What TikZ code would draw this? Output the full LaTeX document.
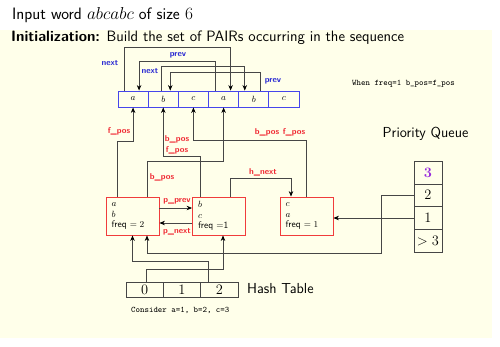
\documentclass[tikz,border=0pt]{standalone}
\usetikzlibrary{arrows.meta,calc}
\definecolor{bgyellow}{RGB}{255,255,234}
\definecolor{lblblue}{RGB}{40,40,210}
\definecolor{arrblue}{RGB}{70,70,235}
\definecolor{lblred}{RGB}{240,40,50}
\definecolor{boxred}{RGB}{240,60,60}
\definecolor{qpurple}{RGB}{150,40,220}
\definecolor{linegray}{RGB}{70,70,70}
\tikzset{
  cell/.style={draw=arrblue, line width=0.9pt, minimum width=30.17pt, minimum height=16pt, inner sep=0pt, font=\fontsize{9}{10}\selectfont},
  pbox/.style={draw=boxred, line width=0.85pt, minimum width=53pt, minimum height=38pt, text width=42pt, align=left, inner xsep=5pt, font=\sffamily\fontsize{9.5}{10.5}\selectfont},
  qcell/.style={draw=linegray, line width=0.7pt, minimum width=28pt, minimum height=22.75pt, inner sep=0pt, font=\fontsize{13.5}{15}\selectfont},
  hcell/.style={draw=linegray, line width=0.7pt, minimum width=37.33pt, minimum height=15pt, inner sep=0pt, font=\fontsize{13.5}{15}\selectfont},
  conn/.style={draw=linegray, line width=0.7pt, -{Stealth[length=5.5pt,width=4.5pt,color=black]}},
  rlbl/.style={text=lblred, font=\sffamily\bfseries\fontsize{8.5}{10}\selectfont, inner sep=0pt},
  blbl/.style={text=lblblue, font=\sffamily\bfseries\fontsize{8.5}{10}\selectfont, inner sep=0pt},
}
\begin{document}
\begin{tikzpicture}[x=1pt,y=-1pt]
\useasboundingbox (0,0) rectangle (500,346);
\fill[bgyellow] (0,30) rectangle (492,338);
% titles
\node[anchor=west, inner sep=0pt, font=\sffamily\fontsize{16.5}{20}\selectfont] (title) at (12,15) {Input word $abcabc$ of size $6$};
\node[anchor=west, inner sep=0pt, font=\sffamily\fontsize{15}{18}\selectfont] (init) at (11,38) {\textbf{Initialization:} Build the set of PAIRs occurring in the sequence};
% array
\foreach \i/\t in {1/a,2/b,3/c,4/a,5/b,6/c}
  \node[cell] (c\i) at ({118+30.17*(\i-0.5)},99) {$\t$};
% top links
\draw[conn] ([xshift=-9pt]c1.north) -- ++(0,-43) -| ([xshift=7pt]c4.north);
\draw[conn] ([xshift=-8pt]c4.north) -- ++(0,-29) -| ([xshift=6pt]c1.north);
\draw[conn] ([xshift=-2pt]c2.north) -- ++(0,-24) -| ([xshift=-9pt]c5.north);
\draw[conn] ([xshift=7pt]c5.north) -- ++(0,-18) -| ([xshift=7pt]c2.north);
\node[blbl] (ln1) at (110,63) {next};
\node[blbl] (lp1) at (178,55) {prev};
\node[blbl] (ln2) at (150,71) {next};
\node[blbl] (lp2) at (273,81) {prev};
% pair boxes
\node[pbox] (B1) at (132.5,216) {$a$\\$b$\\freq $= 2$};
\node[pbox] (B2) at (219,216) {$b$\\$c$\\freq $=$1};
\node[pbox] (B3) at (306.5,216) {$c$\\$a$\\freq $= 1$};
% box to array
\draw[conn] ([xshift=-15.5pt]B1.north) -- ++(0,-55) -| (c1.south);
\draw[conn] ([xshift=14.5pt]B1.north) -- ++(0,-35) -| (c4.south);
\draw[conn] ([xshift=-19pt]B2.north) -- ++(0,-40) -| (c2.south);
\draw[conn] (B3.north) -- ++(0,-56) -| (c3.south);
\draw[conn] ([xshift=11pt]B2.north) -- ++(0,-18) -| ([xshift=-15.5pt]B3.north);
\node[rlbl] (lf1) at (119,131) {f\_pos};
\node[rlbl] (lb1) at (162,177) {b\_pos};
\node[rlbl] (lb2) at (177,139) {b\_pos};
\node[rlbl] (lf2) at (177,150) {f\_pos};
\node[rlbl] (lb3) at (267,132) {b\_pos};
\node[rlbl] (lf3) at (294,132) {f\_pos};
\node[rlbl] (lh) at (263,172) {h\_next};
% p links
\draw[conn] ([yshift=8pt]B1.east) -- ([yshift=8pt]B2.west);
\draw[conn] ([yshift=-7pt]B2.west) -- ([yshift=-7pt]B1.east);
\node[rlbl] (lpp) at (177,201) {p\_prev};
\node[rlbl] (lpn) at (177,232) {p\_next};
% priority queue
\node[qcell] (q3) at (428,172.5) {\textcolor{qpurple}{$\mathbf{3}$}};
\node[qcell] (q2) at (428,195.25) {$2$};
\node[qcell] (q1) at (428,218) {$1$};
\node[qcell] (qg) at (428,240.75) {$> 3$};
\node[font=\sffamily\fontsize{14.5}{16}\selectfont] (pq) at (425.5,134) {Priority Queue};
\node[anchor=west, inner sep=0pt, font=\ttfamily\fontsize{8.5}{10}\selectfont] (when) at (352,84) {When freq=1 b\_pos=f\_pos};
\draw[conn] (q1.west) -- (q1.west -| B3.east);
\draw[conn] (q2.west) -- ++(-32,0) -- ++(0,58) -| ([xshift=14.5pt]B1.south);
% hash table
\node[hcell] (h0) at (144.67,289.5) {$0$};
\node[hcell] (h1) at (182,289.5) {$1$};
\node[hcell] (h2) at (219.33,289.5) {$2$};
\node[anchor=west, inner sep=0pt, font=\sffamily\fontsize{14.5}{16}\selectfont] (ht) at (247,289) {Hash Table};
\node[anchor=west, inner sep=0pt, font=\ttfamily\fontsize{8.5}{10}\selectfont] (cons) at (131,310) {Consider a=1, b=2, c=3};
\draw[conn] ([xshift=2pt]h0.north) -- ++(0,-12) -| ([xshift=4pt]B2.south);
\draw[conn] ([xshift=-11pt]h2.north) -- ++(0,-20) -| (B1.south);
\end{tikzpicture}
\end{document}
